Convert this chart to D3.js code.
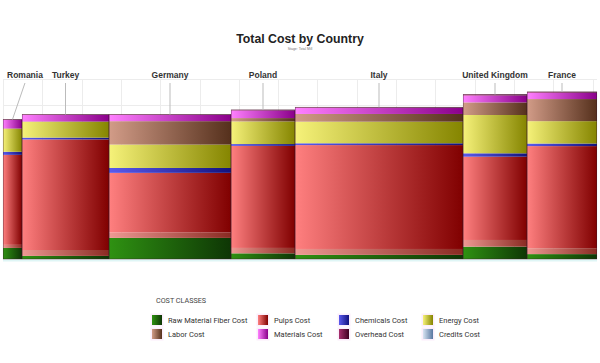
<!DOCTYPE html>
<html lang="en">
<head>
    <meta charset="UTF-8">
    <title>Total Cost by Country</title>
    <script src="https://d3js.org/d3.v7.min.js"></script>
    <style>
        body {
            margin: 0;
            background: #fff;
        }
        svg {
            display: block;
            font-family: 'Liberation Sans', Arial, sans-serif;
        }
        .legend text {
            font-family: 'Roboto', 'Liberation Sans', sans-serif;
        }
    </style>
</head>
<body>
<div id="chart"></div>
<script>
    // data
    var countries = ["Romania", "Turkey", "Germany", "Poland", "Italy", "United Kingdom", "France"];
    var volume = [19, 87, 122, 64, 168, 64, 70];   // bar widths (mekko)

    var rawMaterial = [43, 12, 82, 22, 16, 48, 19];
    var credits = [12, 23, 21, 21, 23, 26, 23];
    var pulps = [350, 430, 232, 397, 404, 324, 397];
    var chemicals = [12, 7, 19, 7, 7, 13, 10];
    var energy = [89, 61, 91, 88, 84, 149, 87];
    var labor = [2, 2, 91, 13, 30, 49, 86];
    var materials = [33, 25, 24, 30, 24, 27, 25];
    var overhead = [2, 2, 2, 2, 2, 4, 3];

    var yTicks = [0, 100, 200, 300, 400, 500, 600, 700];
    var xGridStep = 39.3;

    var series = [
        {key: "raw", name: "Raw Material Fiber Cost", values: rawMaterial, c: ["#2f9212", "#0e3605"]},
        {key: "credits", name: "Credits Cost", values: credits, c: ["#ee9a94", "#8a2a22"], legend: ["#d8e4f2", "#5877a0"]},
        {key: "pulps", name: "Pulps Cost", values: pulps, c: ["#ff8080", "#800000"]},
        {key: "chem", name: "Chemicals Cost", values: chemicals, c: ["#5a5aee", "#12127e"]},
        {key: "energy", name: "Energy Cost", values: energy, c: ["#f6f27a", "#858500"]},
        {key: "labor", name: "Labor Cost", values: labor, c: ["#d29c88", "#55301c"]},
        {key: "materials", name: "Materials Cost", values: materials, c: ["#ff80ff", "#8a008a"]},
        {key: "overhead", name: "Overhead Cost", values: overhead, c: ["#a8306e", "#3e0020"]}
    ];
    var legendOrder = ["raw", "pulps", "chem", "energy", "labor", "materials", "overhead", "credits"];

    var width = 600, height = 363;
    var margin = {left: 3, right: 3, top: 79, bottom: 104};

    var svg = d3.select("#chart").append("svg")
        .attr("width", width)
        .attr("height", height);

    var defs = svg.append("defs");
    series.forEach(function (s) {
        var g = defs.append("linearGradient").attr("id", "g-" + s.key)
            .attr("x1", 0).attr("x2", 1).attr("y1", 0).attr("y2", 0);
        g.append("stop").attr("offset", "0%").attr("stop-color", s.c[0]);
        g.append("stop").attr("offset", "100%").attr("stop-color", s.c[1]);
        var lc = s.legend || s.c;
        var lg = defs.append("linearGradient").attr("id", "l-" + s.key)
            .attr("x1", 0).attr("x2", 1).attr("y1", 0).attr("y2", 0);
        lg.append("stop").attr("offset", "0%").attr("stop-color", lc[0]);
        lg.append("stop").attr("offset", "100%").attr("stop-color", lc[1]);
    });

    // table for the stack
    var table = countries.map(function (c, i) {
        var row = {country: c, volume: volume[i]};
        series.forEach(function (s) { row[s.key] = s.values[i]; });
        return row;
    });
    var x0 = 0;
    table.forEach(function (d) { d.x0 = x0; x0 += d.volume; d.x1 = x0; });

    var x = d3.scaleLinear()
        .domain([0, d3.sum(volume)])
        .range([margin.left, width - margin.right]);
    var y = d3.scaleLinear()
        .domain([0, 700])
        .range([height - margin.bottom, margin.top]);

    // grid
    var grid = svg.append("g").attr("stroke", "#ececec").attr("stroke-width", 1);
    grid.selectAll("line.h").data(yTicks).enter().append("line")
        .attr("x1", x(0)).attr("x2", x(d3.sum(volume)))
        .attr("y1", function (d) { return Math.round(y(d)) + 0.5; })
        .attr("y2", function (d) { return Math.round(y(d)) + 0.5; });
    grid.selectAll("line.v").data(d3.range(0, d3.sum(volume), xGridStep)).enter().append("line")
        .attr("x1", function (d) { return Math.round(x(d)) + 0.5; })
        .attr("x2", function (d) { return Math.round(x(d)) + 0.5; })
        .attr("y1", y(700)).attr("y2", y(0));

    // baseline glow
    svg.append("line")
        .attr("x1", x(0)).attr("x2", x(d3.sum(volume)))
        .attr("y1", y(0) + 1.5).attr("y2", y(0) + 1.5)
        .attr("stroke", "#dff6f6").attr("stroke-width", 2);

    var stack = d3.stack().keys(series.map(function (s) { return s.key; }));
    var layers = stack(table);

    svg.append("g").selectAll("g").data(layers).enter().append("g")
        .attr("fill", function (d) { return "url(#g-" + d.key + ")"; })
        .selectAll("rect").data(function (d) { return d; }).enter().append("rect")
        .attr("x", function (d) { return x(d.data.x0); })
        .attr("width", function (d) { return x(d.data.x1) - x(d.data.x0); })
        .attr("y", function (d) { return y(d[1]); })
        .attr("height", function (d) { return y(d[0]) - y(d[1]); });

    // bar outlines
    svg.append("g").selectAll("rect").data(table).enter().append("rect")
        .attr("x", function (d) { return x(d.x0) + 0.3; })
        .attr("width", function (d) { return x(d.x1) - x(d.x0) - 0.6; })
        .attr("y", function (d) { return y(layers[layers.length - 1][table.indexOf(d)][1]); })
        .attr("height", function (d) { return y(0) - y(layers[layers.length - 1][table.indexOf(d)][1]); })
        .attr("fill", "none")
        .attr("stroke", "#3a1a2a")
        .attr("stroke-opacity", 0.55)
        .attr("stroke-width", 0.7);

    // country labels with leader lines
    var labels = svg.append("g");
    table.forEach(function (d, i) {
        var cx = (x(d.x0) + x(d.x1)) / 2;
        var top = y(layers[layers.length - 1][i][1]);
        var t = labels.append("text")
            .attr("y", 77.5)
            .attr("text-anchor", "middle")
            .attr("font-size", 8.5)
            .attr("font-weight", "bold")
            .attr("fill", "#333")
            .text(d.country);
        var w = t.node().getComputedTextLength();
        var lx = Math.max(cx, 7 + w / 2);
        t.attr("x", lx);
        labels.append("line")
            .attr("x1", lx).attr("y1", 83)
            .attr("x2", cx).attr("y2", top)
            .attr("stroke", "#bbb").attr("stroke-width", 1);
    });

    // title
    svg.append("text")
        .attr("x", width / 2).attr("y", 43)
        .attr("text-anchor", "middle")
        .attr("font-size", 12.3)
        .attr("font-weight", "bold")
        .attr("fill", "#222")
        .text("Total Cost by Country");
    svg.append("text")
        .attr("x", width / 2).attr("y", 49.5)
        .attr("text-anchor", "middle")
        .attr("font-size", 3.5)
        .attr("fill", "#777")
        .text("Stage: Total Mill");

    // legend
    var legend = svg.append("g").attr("class", "legend");
    legend.append("text")
        .attr("x", 156).attr("y", 303)
        .attr("font-size", 7.2)
        .attr("fill", "#444")
        .text("COST CLASSES");
    var colX = [152, 258, 339, 423];
    var rowY = [315, 329];
    legendOrder.forEach(function (k, i) {
        var s = series.find(function (d) { return d.key === k; });
        var gx = colX[i % 4], gy = rowY[Math.floor(i / 4)];
        legend.append("rect")
            .attr("x", gx - 1.5).attr("y", gy - 1.5)
            .attr("width", 13).attr("height", 13)
            .attr("fill", "#fbeefb");
        legend.append("rect")
            .attr("x", gx).attr("y", gy)
            .attr("width", 10).attr("height", 10)
            .attr("fill", "url(#l-" + k + ")");
        legend.append("text")
            .attr("x", gx + 16).attr("y", gy + 7.5)
            .attr("font-size", 7.5)
            .attr("fill", "#333")
            .text(s.name);
    });
</script>
</body>
</html>
